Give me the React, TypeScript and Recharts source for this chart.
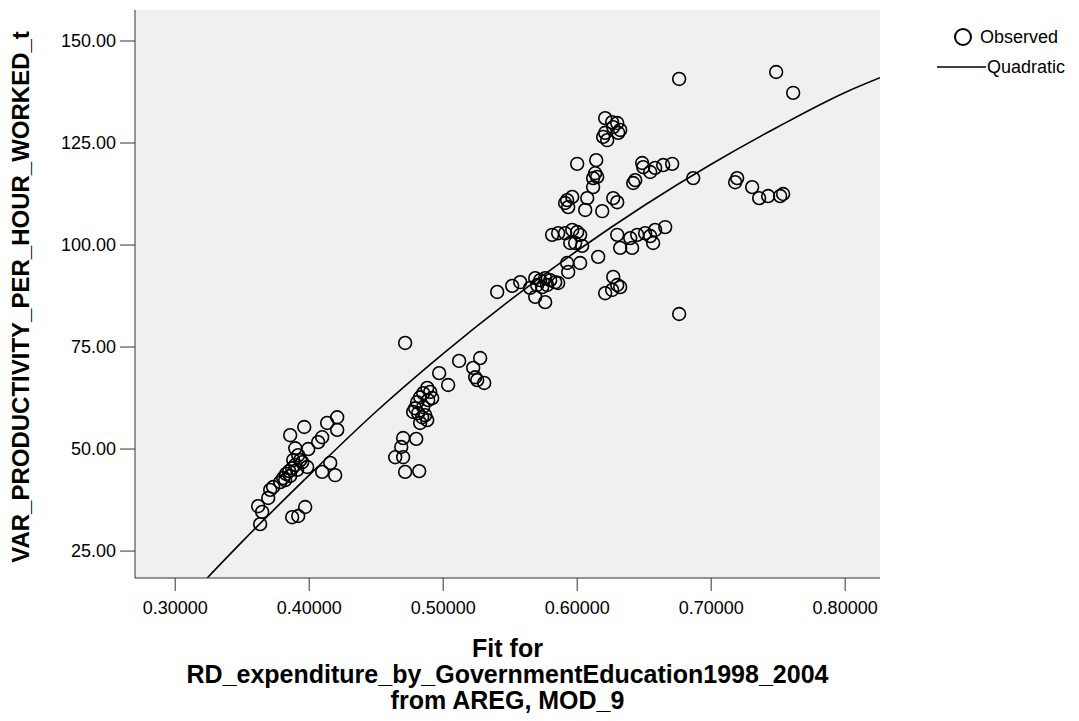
import { ComposedChart, Scatter, Line, XAxis, YAxis, CartesianGrid, Label } from "recharts";

// observed points
const obsX = [
  0.3619, 0.3649, 0.3634, 0.3694, 0.3709, 0.3731, 0.3806, 0.3828, 0.3851, 0.3873,
  0.3858, 0.3896, 0.391, 0.3933, 0.3881, 0.3918, 0.3948, 0.3858, 0.3963, 0.3896,
  0.3993, 0.3985, 0.4067, 0.4097, 0.4134, 0.4209, 0.4209, 0.4097, 0.4157, 0.4194,
  0.3873, 0.3918, 0.397, 0.3821, 0.3784,
  0.4716, 0.4642, 0.4701, 0.4716, 0.4821, 0.4701, 0.4799, 0.4687, 0.4881, 0.4903,
  0.4918, 0.4851, 0.4828, 0.4806, 0.4791, 0.4776, 0.4813, 0.4843, 0.4866, 0.4881,
  0.4828, 0.4851, 0.4888,
  0.497, 0.5037, 0.5119, 0.5276, 0.5224, 0.5239, 0.5254, 0.5306,
  0.5403, 0.5515, 0.5575, 0.5649, 0.5687, 0.5724, 0.5761, 0.5799, 0.5836, 0.5858,
  0.5701, 0.5776, 0.5739, 0.5687, 0.5761,
  0.5813, 0.5858, 0.591, 0.5963, 0.6, 0.6022, 0.5948, 0.5985, 0.6037, 0.6157,
  0.5925, 0.6022, 0.5933,
  0.6299, 0.6321, 0.6396, 0.641, 0.6448, 0.6507, 0.6545, 0.6582, 0.6657, 0.6567,
  0.6269, 0.6299, 0.6261, 0.6209, 0.6321, 0.6761,
  0.6209, 0.6261, 0.6299, 0.6321, 0.6306, 0.6209, 0.6224, 0.6194, 0.6269, 0.6,
  0.6142, 0.6134, 0.6149, 0.6119, 0.6119, 0.6075, 0.5925, 0.591, 0.5933, 0.5963,
  0.606, 0.6187, 0.6269, 0.6299, 0.6418, 0.6433, 0.6485, 0.6493, 0.6545, 0.6582,
  0.6642, 0.6709, 0.6866, 0.6761,
  0.7194, 0.7179, 0.7306, 0.7358, 0.7425, 0.7515, 0.7537, 0.7485, 0.7612,
];
const obsY = [
  36.0, 34.6, 31.6, 38.0, 40.0, 40.7, 42.9, 43.9, 44.6, 45.3,
  43.4, 46.1, 44.9, 47.3, 47.3, 48.5, 46.8, 53.4, 55.4, 50.2,
  50.0, 45.6, 51.7, 52.9, 56.4, 57.8, 54.7, 44.4, 46.6, 43.6,
  33.3, 33.6, 35.8, 42.4, 41.9,
  76.0, 48.0, 48.0, 44.4, 44.6, 52.7, 52.5, 50.5, 65.0, 64.0,
  62.5, 63.7, 62.7, 61.5, 60.0, 59.1, 58.8, 57.8, 58.3, 57.1,
  56.4, 60.3, 62.0,
  68.6, 65.7, 71.6, 72.3, 69.9, 67.6, 66.9, 66.2,
  88.5, 90.0, 90.9, 89.5, 91.9, 91.4, 91.9, 91.4, 90.9, 90.7,
  90.2, 90.2, 89.7, 87.3, 86.0,
  102.5, 102.9, 102.9, 103.7, 103.2, 102.5, 100.5, 100.5, 99.8, 97.1,
  95.6, 95.6, 93.4,
  102.5, 99.3, 101.7, 99.3, 102.5, 102.9, 102.2, 103.7, 104.4, 100.5,
  92.2, 90.2, 89.0, 88.2, 89.7, 83.1,
  131.1, 130.1, 129.9, 128.2, 127.5, 127.5, 125.7, 126.5, 128.9, 119.9,
  120.8, 117.6, 116.7, 116.4, 114.2, 111.5, 111.0, 110.3, 109.3, 111.8,
  108.6, 108.3, 111.5, 110.5, 115.2, 115.9, 120.1, 119.1, 117.9, 118.9,
  119.6, 119.9, 116.4, 140.7,
  116.4, 115.4, 114.2, 111.5, 112.0, 112.0, 112.5, 142.4, 137.3,
];

// quadratic fit line
const fitX = [0.3239, 0.35, 0.4, 0.45, 0.5, 0.55, 0.6, 0.65, 0.7, 0.75, 0.8, 0.826];
const fitY = [18.4, 27.3, 43.6, 59.2, 73.4, 86.5, 98.6, 109.7, 119.8, 129.0, 137.4, 141.0];

const xTicks = [0.3, 0.4, 0.5, 0.6, 0.7, 0.8];
const yTicks = [25, 50, 75, 100, 125, 150];

const observed = obsX.map((x, i) => ({ x, y: obsY[i] }));
const fit = fitX.map((x, i) => ({ x, y: fitY[i] }));

const FONT = "'Liberation Sans', Arial, sans-serif";
const xDomain = [0.27, 0.826];
const yDomain = [18.4, 157.6];

function XTitle({ viewBox }: any) {
  const cx = viewBox.x + viewBox.width / 2;
  const y0 = viewBox.y;
  const style = { fontFamily: FONT, fontSize: 25, fontWeight: 700, fill: "#000" };
  return (
    <g>
      <text x={cx} y={y0 + 79} textAnchor="middle" style={style}>Fit for</text>
      <text x={cx} y={y0 + 105} textAnchor="middle" style={style}>
        RD_expenditure_by_GovernmentEducation1998_2004
      </text>
      <text x={cx} y={y0 + 131} textAnchor="middle" style={style}>from AREG, MOD_9</text>
    </g>
  );
}

function YTitle({ viewBox }: any) {
  const cy = viewBox.y + viewBox.height / 2 + 3;
  const x = 29;
  return (
    <text
      x={x}
      y={cy}
      transform={`rotate(-90 ${x} ${cy})`}
      textAnchor="middle"
      style={{ fontFamily: FONT, fontSize: 24, fontWeight: 700, fill: "#000" }}
    >
      VAR_PRODUCTIVITY_PER_HOUR_WORKED_t
    </text>
  );
}

const ring = (props: any) => (
  <circle cx={props.cx} cy={props.cy} r={6.4} fill="none" stroke="#000" strokeWidth={1.6} />
);

export default function App() {
  const tick = { fill: "#000", fontSize: 18, fontFamily: FONT };
  return (
    <div style={{ position: "absolute", left: 0, top: 0, width: 1079, height: 721, background: "#fff" }}>
      <ComposedChart width={1079} height={721} margin={{ top: 10, right: 199, bottom: 0, left: 0 }}>
        <CartesianGrid fill="#f0f0f0" horizontal={false} vertical={false} />
        <XAxis
          type="number"
          dataKey="x"
          domain={xDomain}
          allowDataOverflow
          ticks={xTicks}
          tickFormatter={(v: number) => v.toFixed(5)}
          tick={tick}
          tickSize={13}
          tickMargin={10}
          height={143}
          axisLine={{ stroke: "#333" }}
          tickLine={{ stroke: "#333" }}
        >
          <Label content={XTitle} />
        </XAxis>
        <XAxis
          xAxisId="top"
          orientation="top"
          type="number"
          dataKey="x"
          domain={xDomain}
          allowDataOverflow
          height={0}
          tick={false}
          tickLine={false}
          axisLine={{ stroke: "#333" }}
        />
        <YAxis
          type="number"
          dataKey="y"
          domain={yDomain}
          allowDataOverflow
          ticks={yTicks}
          tickFormatter={(v: number) => v.toFixed(2)}
          tick={tick}
          tickSize={15}
          tickMargin={4}
          width={135}
          axisLine={{ stroke: "#333" }}
          tickLine={{ stroke: "#333" }}
        >
          <Label content={YTitle} />
        </YAxis>
        <YAxis
          yAxisId="right"
          orientation="right"
          type="number"
          dataKey="y"
          domain={yDomain}
          allowDataOverflow
          width={0}
          tick={false}
          tickLine={false}
          axisLine={{ stroke: "#333" }}
        />
        <Line
          data={fit}
          dataKey="y"
          type="monotone"
          stroke="#000"
          strokeWidth={1.6}
          dot={false}
          activeDot={false}
          isAnimationActive={false}
        />
        <Scatter data={observed} dataKey="y" shape={ring} isAnimationActive={false} />
      </ComposedChart>
      <svg
        width={150}
        height={70}
        style={{ position: "absolute", left: 929, top: 18 }}
      >
        <circle cx={34} cy={19} r={8} fill="none" stroke="#000" strokeWidth={2} />
        <text x={51} y={25} style={{ fontFamily: FONT, fontSize: 18, fill: "#000" }}>Observed</text>
        <line x1={8} y1={49} x2={57} y2={49} stroke="#000" strokeWidth={1.6} />
        <text x={58} y={55} style={{ fontFamily: FONT, fontSize: 18, fill: "#000" }}>Quadratic</text>
      </svg>
    </div>
  );
}
